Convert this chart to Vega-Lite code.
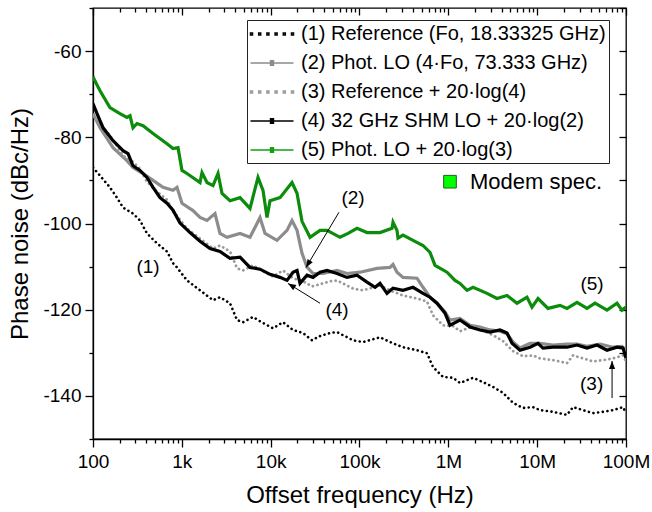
{
  "$schema": "https://vega.github.io/schema/vega-lite/v6.json",
  "width": 533,
  "height": 431,
  "autosize": {"type": "none"},
  "padding": {"left": 93, "top": 8, "right": 26, "bottom": 73},
  "config": {
    "font": "Liberation Sans",
    "view": {"stroke": "#000", "strokeWidth": 1.3},
    "axis": {"grid": false, "domainColor": "#000", "tickColor": "#000", "labelColor": "#000", "titleColor": "#000", "domainWidth": 1.3, "tickWidth": 1.3, "labelFont": "Liberation Sans", "titleFont": "Liberation Sans", "titleFontWeight": "normal"}
  },
  "datasets": {
    "series": [
      {"name": "(1) Reference (Fo, 18.33325 GHz)"},
      {"name": "(2) Phot. LO (4·Fo, 73.333 GHz)"},
      {"name": "(3) Reference + 20·log(4)"},
      {"name": "(4) 32 GHz SHM LO + 20·log(2)"},
      {"name": "(5) Phot. LO + 20·log(3)"}
    ],
    "notes": [
      {"text": "(1)", "f": 416, "db": -110.2},
      {"text": "(2)", "f": 84500, "db": -94.0},
      {"text": "(4)", "f": 55800, "db": -120.1},
      {"text": "(5)", "f": 41500000, "db": -114.1},
      {"text": "(3)", "f": 41000000, "db": -137.2}
    ],
    "modem": [{"label": "Modem spec.", "f": 1044000, "ft": 1754000, "db": -90.3}],
    "arrows": [
      {"id": 2, "f1": 58700, "db1": -97.4, "f2": 25000, "db2": -110.2},
      {"id": 4, "f1": 35940, "db1": -118.5, "f2": 15670, "db2": -113.9},
      {"id": 3, "f1": 69700000, "db1": -140.5, "f2": 69700000, "db2": -131.9}
    ],
    "curves": [
      {"n":1,"f":100,"db":-87.0},{"n":1,"f":120,"db":-88.9},{"n":1,"f":155,"db":-91.6},{"n":1,"f":186,"db":-94.0},{"n":1,"f":218,"db":-96.3},{"n":1,"f":282,"db":-97.7},{"n":1,"f":338,"db":-99.3},{"n":1,"f":405,"db":-102.3},{"n":1,"f":525,"db":-104.6},{"n":1,"f":681,"db":-106.5},{"n":1,"f":795,"db":-109.2},{"n":1,"f":882,"db":-110.2},{"n":1,"f":1143,"db":-113.2},{"n":1,"f":1602,"db":-115.5},{"n":1,"f":2244,"db":-117.8},{"n":1,"f":2690,"db":-117.1},{"n":1,"f":3486,"db":-118.5},{"n":1,"f":4180,"db":-122.4},{"n":1,"f":4883,"db":-122.9},{"n":1,"f":6328,"db":-121.7},{"n":1,"f":8200,"db":-123.1},{"n":1,"f":10625,"db":-124.3},{"n":1,"f":13770,"db":-122.9},{"n":1,"f":17840,"db":-124.7},{"n":1,"f":23120,"db":-125.4},{"n":1,"f":29210,"db":-127.1},{"n":1,"f":35940,"db":-126.1},{"n":1,"f":46580,"db":-125.4},{"n":1,"f":55830,"db":-125.2},{"n":1,"f":84520,"db":-127.1},{"n":1,"f":109500,"db":-127.5},{"n":1,"f":170200,"db":-126.4},{"n":1,"f":238400,"db":-127.8},{"n":1,"f":308900,"db":-128.7},{"n":1,"f":444000,"db":-129.4},{"n":1,"f":575300,"db":-130.1},{"n":1,"f":672200,"db":-133.3},{"n":1,"f":871000,"db":-135.6},{"n":1,"f":1129000,"db":-135.8},{"n":1,"f":1353000,"db":-137.0},{"n":1,"f":1896000,"db":-135.8},{"n":1,"f":2457000,"db":-136.8},{"n":1,"f":3184000,"db":-137.9},{"n":1,"f":4126000,"db":-139.3},{"n":1,"f":5346000,"db":-141.6},{"n":1,"f":6928000,"db":-142.8},{"n":1,"f":8978000,"db":-142.6},{"n":1,"f":10760000,"db":-143.3},{"n":1,"f":15080000,"db":-143.7},{"n":1,"f":21680000,"db":-144.4},{"n":1,"f":25320000,"db":-142.6},{"n":1,"f":32810000,"db":-143.3},{"n":1,"f":42530000,"db":-144.0},{"n":1,"f":55100000,"db":-143.7},{"n":1,"f":71410000,"db":-143.3},{"n":1,"f":92540000,"db":-142.6},{"n":1,"f":100000000,"db":-144.0},

      {"n":2,"f":100,"db":-74.5},{"n":2,"f":120,"db":-77.8},{"n":2,"f":168,"db":-82.4},{"n":2,"f":241,"db":-85.4},{"n":2,"f":282,"db":-87.0},{"n":2,"f":366,"db":-88.4},{"n":2,"f":474,"db":-90.0},{"n":2,"f":614,"db":-91.6},{"n":2,"f":795,"db":-92.3},{"n":2,"f":882,"db":-91.6},{"n":2,"f":1004,"db":-95.3},{"n":2,"f":1336,"db":-97.0},{"n":2,"f":1602,"db":-98.6},{"n":2,"f":1920,"db":-99.3},{"n":2,"f":2363,"db":-97.7},{"n":2,"f":2690,"db":-102.3},{"n":2,"f":3226,"db":-103.2},{"n":2,"f":4517,"db":-102.3},{"n":2,"f":5853,"db":-103.2},{"n":2,"f":7019,"db":-100.0},{"n":2,"f":7585,"db":-98.6},{"n":2,"f":8637,"db":-102.3},{"n":2,"f":11785,"db":-103.9},{"n":2,"f":15275,"db":-101.6},{"n":2,"f":17385,"db":-99.3},{"n":2,"f":19800,"db":-101.6},{"n":2,"f":22540,"db":-106.9},{"n":2,"f":25660,"db":-110.1},{"n":2,"f":29980,"db":-111.6},{"n":2,"f":38850,"db":-111.6},{"n":2,"f":55830,"db":-110.9},{"n":2,"f":72340,"db":-111.6},{"n":2,"f":101340,"db":-111.3},{"n":2,"f":157450,"db":-110.4},{"n":2,"f":220500,"db":-110.2},{"n":2,"f":238400,"db":-109.5},{"n":2,"f":264300,"db":-111.3},{"n":2,"f":308900,"db":-112.5},{"n":2,"f":444000,"db":-112.7},{"n":2,"f":518600,"db":-114.8},{"n":2,"f":621900,"db":-117.1},{"n":2,"f":745700,"db":-118.5},{"n":2,"f":917600,"db":-120.5},{"n":2,"f":1044000,"db":-122.4},{"n":2,"f":1353000,"db":-122.0},{"n":2,"f":1754000,"db":-123.6},{"n":2,"f":2273000,"db":-124.0},{"n":2,"f":2945000,"db":-124.7},{"n":2,"f":3816000,"db":-125.0},{"n":2,"f":4576000,"db":-125.6},{"n":2,"f":5346000,"db":-127.5},{"n":2,"f":6410000,"db":-128.9},{"n":2,"f":8307000,"db":-127.8},{"n":2,"f":10760000,"db":-127.8},{"n":2,"f":15080000,"db":-128.2},{"n":2,"f":21680000,"db":-128.0},{"n":2,"f":28090000,"db":-128.0},{"n":2,"f":36390000,"db":-128.5},{"n":2,"f":50980000,"db":-128.0},{"n":2,"f":71410000,"db":-128.7},{"n":2,"f":90160000,"db":-128.5},{"n":2,"f":100000000,"db":-129.8},

      {"n":3,"f":100,"db":-75.0},{"n":3,"f":120,"db":-76.9},{"n":3,"f":155,"db":-79.6},{"n":3,"f":186,"db":-82.0},{"n":3,"f":218,"db":-84.3},{"n":3,"f":282,"db":-85.7},{"n":3,"f":338,"db":-87.3},{"n":3,"f":405,"db":-90.3},{"n":3,"f":525,"db":-92.6},{"n":3,"f":681,"db":-94.5},{"n":3,"f":795,"db":-97.2},{"n":3,"f":882,"db":-98.2},{"n":3,"f":1143,"db":-101.2},{"n":3,"f":1602,"db":-103.5},{"n":3,"f":2244,"db":-105.8},{"n":3,"f":2690,"db":-105.1},{"n":3,"f":3486,"db":-106.5},{"n":3,"f":4180,"db":-110.4},{"n":3,"f":4883,"db":-110.9},{"n":3,"f":6328,"db":-109.7},{"n":3,"f":8200,"db":-111.1},{"n":3,"f":10625,"db":-112.3},{"n":3,"f":13770,"db":-110.9},{"n":3,"f":17840,"db":-112.7},{"n":3,"f":23120,"db":-113.4},{"n":3,"f":29210,"db":-114.6},{"n":3,"f":35940,"db":-114.1},{"n":3,"f":46580,"db":-113.4},{"n":3,"f":55830,"db":-113.2},{"n":3,"f":84520,"db":-115.1},{"n":3,"f":109500,"db":-115.5},{"n":3,"f":170200,"db":-114.4},{"n":3,"f":238400,"db":-115.8},{"n":3,"f":308900,"db":-116.7},{"n":3,"f":444000,"db":-117.4},{"n":3,"f":575300,"db":-118.1},{"n":3,"f":672200,"db":-121.3},{"n":3,"f":871000,"db":-123.6},{"n":3,"f":1129000,"db":-123.8},{"n":3,"f":1353000,"db":-125.0},{"n":3,"f":1896000,"db":-123.8},{"n":3,"f":2457000,"db":-124.8},{"n":3,"f":3184000,"db":-125.9},{"n":3,"f":4126000,"db":-127.3},{"n":3,"f":5346000,"db":-129.6},{"n":3,"f":6928000,"db":-130.8},{"n":3,"f":8978000,"db":-130.6},{"n":3,"f":10760000,"db":-131.3},{"n":3,"f":15080000,"db":-131.7},{"n":3,"f":21680000,"db":-132.4},{"n":3,"f":25320000,"db":-130.6},{"n":3,"f":32810000,"db":-131.3},{"n":3,"f":42530000,"db":-132.0},{"n":3,"f":55100000,"db":-131.7},{"n":3,"f":71410000,"db":-131.3},{"n":3,"f":92540000,"db":-130.6},{"n":3,"f":100000000,"db":-132.0},

      {"n":4,"f":100,"db":-72.2},{"n":4,"f":111,"db":-74.5},{"n":4,"f":130,"db":-77.8},{"n":4,"f":168,"db":-80.8},{"n":4,"f":218,"db":-83.1},{"n":4,"f":248,"db":-83.8},{"n":4,"f":282,"db":-86.6},{"n":4,"f":338,"db":-87.7},{"n":4,"f":405,"db":-89.3},{"n":4,"f":474,"db":-91.6},{"n":4,"f":568,"db":-94.0},{"n":4,"f":681,"db":-95.3},{"n":4,"f":795,"db":-96.9},{"n":4,"f":954,"db":-99.9},{"n":4,"f":1236,"db":-102.1},{"n":4,"f":1602,"db":-104.1},{"n":4,"f":2076,"db":-105.8},{"n":4,"f":2690,"db":-106.5},{"n":4,"f":3486,"db":-108.1},{"n":4,"f":4517,"db":-107.8},{"n":4,"f":5853,"db":-110.2},{"n":4,"f":7585,"db":-110.6},{"n":4,"f":9831,"db":-111.8},{"n":4,"f":12740,"db":-112.5},{"n":4,"f":15275,"db":-113.2},{"n":4,"f":17840,"db":-111.3},{"n":4,"f":19800,"db":-110.9},{"n":4,"f":21400,"db":-113.9},{"n":4,"f":25660,"db":-112.0},{"n":4,"f":29980,"db":-112.5},{"n":4,"f":35940,"db":-111.3},{"n":4,"f":43090,"db":-110.9},{"n":4,"f":55830,"db":-111.6},{"n":4,"f":72340,"db":-112.5},{"n":4,"f":93760,"db":-112.0},{"n":4,"f":121500,"db":-113.6},{"n":4,"f":149500,"db":-114.8},{"n":4,"f":170200,"db":-113.9},{"n":4,"f":204000,"db":-116.2},{"n":4,"f":238400,"db":-115.0},{"n":4,"f":308900,"db":-115.5},{"n":4,"f":400300,"db":-114.8},{"n":4,"f":518600,"db":-116.2},{"n":4,"f":621900,"db":-117.1},{"n":4,"f":745700,"db":-118.5},{"n":4,"f":917600,"db":-120.8},{"n":4,"f":1044000,"db":-123.6},{"n":4,"f":1353000,"db":-122.4},{"n":4,"f":1754000,"db":-124.0},{"n":4,"f":2273000,"db":-124.7},{"n":4,"f":2945000,"db":-125.2},{"n":4,"f":3816000,"db":-124.7},{"n":4,"f":4576000,"db":-125.4},{"n":4,"f":5210000,"db":-127.8},{"n":4,"f":6410000,"db":-129.4},{"n":4,"f":8307000,"db":-128.7},{"n":4,"f":10220000,"db":-127.8},{"n":4,"f":11630000,"db":-128.9},{"n":4,"f":15080000,"db":-128.7},{"n":4,"f":21680000,"db":-128.7},{"n":4,"f":28090000,"db":-128.2},{"n":4,"f":36390000,"db":-128.9},{"n":4,"f":47170000,"db":-128.2},{"n":4,"f":61120000,"db":-129.4},{"n":4,"f":79200000,"db":-128.7},{"n":4,"f":92540000,"db":-128.9},{"n":4,"f":100000000,"db":-131.2},

      {"n":5,"f":100,"db":-65.9},{"n":5,"f":105,"db":-66.9},{"n":5,"f":120,"db":-69.2},{"n":5,"f":155,"db":-73.1},{"n":5,"f":201,"db":-74.5},{"n":5,"f":241,"db":-75.4},{"n":5,"f":261,"db":-75.0},{"n":5,"f":282,"db":-77.8},{"n":5,"f":313,"db":-76.8},{"n":5,"f":366,"db":-77.3},{"n":5,"f":474,"db":-79.1},{"n":5,"f":681,"db":-81.5},{"n":5,"f":795,"db":-82.6},{"n":5,"f":906,"db":-82.4},{"n":5,"f":1004,"db":-87.7},{"n":5,"f":1143,"db":-88.4},{"n":5,"f":1602,"db":-90.5},{"n":5,"f":1687,"db":-88.2},{"n":5,"f":1920,"db":-90.5},{"n":5,"f":2244,"db":-91.2},{"n":5,"f":2554,"db":-88.4},{"n":5,"f":2833,"db":-93.0},{"n":5,"f":3486,"db":-94.7},{"n":5,"f":4517,"db":-94.0},{"n":5,"f":5853,"db":-96.5},{"n":5,"f":7202,"db":-89.3},{"n":5,"f":8200,"db":-92.3},{"n":5,"f":9097,"db":-98.6},{"n":5,"f":9831,"db":-94.7},{"n":5,"f":12740,"db":-94.0},{"n":5,"f":17385,"db":-90.5},{"n":5,"f":19800,"db":-93.0},{"n":5,"f":22540,"db":-99.5},{"n":5,"f":27730,"db":-103.2},{"n":5,"f":35940,"db":-101.6},{"n":5,"f":43090,"db":-101.6},{"n":5,"f":60350,"db":-103.2},{"n":5,"f":74240,"db":-102.3},{"n":5,"f":93760,"db":-101.1},{"n":5,"f":121500,"db":-102.1},{"n":5,"f":170200,"db":-102.1},{"n":5,"f":232300,"db":-101.1},{"n":5,"f":238400,"db":-99.7},{"n":5,"f":264300,"db":-101.6},{"n":5,"f":271300,"db":-103.4},{"n":5,"f":308900,"db":-102.7},{"n":5,"f":400300,"db":-103.9},{"n":5,"f":518600,"db":-105.1},{"n":5,"f":621900,"db":-106.7},{"n":5,"f":707900,"db":-109.7},{"n":5,"f":966300,"db":-111.3},{"n":5,"f":1189000,"db":-113.2},{"n":5,"f":1353000,"db":-113.9},{"n":5,"f":1623000,"db":-115.5},{"n":5,"f":1896000,"db":-114.8},{"n":5,"f":2725000,"db":-116.2},{"n":5,"f":3531000,"db":-117.4},{"n":5,"f":4576000,"db":-116.7},{"n":5,"f":5930000,"db":-118.5},{"n":5,"f":7684000,"db":-117.1},{"n":5,"f":8748000,"db":-119.4},{"n":5,"f":10220000,"db":-117.4},{"n":5,"f":13240000,"db":-119.7},{"n":5,"f":18070000,"db":-119.0},{"n":5,"f":21680000,"db":-119.7},{"n":5,"f":28090000,"db":-118.3},{"n":5,"f":36390000,"db":-119.7},{"n":5,"f":44790000,"db":-118.5},{"n":5,"f":61120000,"db":-120.1},{"n":5,"f":79200000,"db":-118.5},{"n":5,"f":90160000,"db":-120.1},{"n":5,"f":100000000,"db":-119.4}
    ]
  },
  "layer": [
    {
      "layer": [
        {
          "data": {"name": "curves"},
          "transform": [{"filter": "datum.n == 1"}],
          "mark": {"type": "line", "color": "#000", "strokeWidth": 2.6, "strokeDash": [0.1, 4.6], "strokeCap": "round", "clip": true},
          "encoding": {
            "x": {"field": "f", "type": "quantitative", "scale": {"type": "log", "domain": [100, 100000000], "nice": false},
              "axis": {"orient": "bottom", "values": [100, 1000, 10000, 100000, 1000000, 10000000, 100000000], "labelExpr": "datum.value == 100 ? '100' : datum.value == 1000 ? '1k' : datum.value == 10000 ? '10k' : datum.value == 100000 ? '100k' : datum.value == 1000000 ? '1M' : datum.value == 10000000 ? '10M' : '100M'", "tickSize": 8, "labelPadding": 5, "labelFontSize": 19, "labelFlush": false, "labelOverlap": false, "title": "Offset frequency (Hz)", "titleFontSize": 24, "titlePadding": 12}},
            "y": {"field": "db", "type": "quantitative", "scale": {"domain": [-150, -50], "nice": false},
              "axis": {"orient": "left", "values": [-140, -120, -100, -80, -60], "labelExpr": "'' + datum.value", "tickSize": 8, "labelPadding": 4, "labelFontSize": 19, "title": "Phase noise (dBc/Hz)", "titleFontSize": 24, "titlePadding": 10}},
            "order": {"field": "f", "type": "quantitative"}
          }
        },
        {
          "data": {"name": "curves"},
          "transform": [{"filter": "datum.n == 2"}],
          "mark": {"type": "line", "color": "#8c8c8c", "strokeWidth": 3.2, "clip": true},
          "encoding": {"x": {"field": "f", "type": "quantitative"}, "y": {"field": "db", "type": "quantitative"}, "order": {"field": "f", "type": "quantitative"}}
        },
        {
          "data": {"name": "curves"},
          "transform": [{"filter": "datum.n == 3"}],
          "mark": {"type": "line", "color": "#9a9a9a", "strokeWidth": 2.8, "strokeDash": [0.1, 4.6], "strokeCap": "round", "clip": true},
          "encoding": {"x": {"field": "f", "type": "quantitative"}, "y": {"field": "db", "type": "quantitative"}, "order": {"field": "f", "type": "quantitative"}}
        },
        {
          "data": {"name": "curves"},
          "transform": [{"filter": "datum.n == 4"}],
          "mark": {"type": "line", "color": "#000", "strokeWidth": 3.2, "clip": true},
          "encoding": {"x": {"field": "f", "type": "quantitative"}, "y": {"field": "db", "type": "quantitative"}, "order": {"field": "f", "type": "quantitative"}}
        },
        {
          "data": {"name": "curves"},
          "transform": [{"filter": "datum.n == 5"}],
          "mark": {"type": "line", "color": "#0b8c0b", "strokeWidth": 3.2, "clip": true},
          "encoding": {"x": {"field": "f", "type": "quantitative"}, "y": {"field": "db", "type": "quantitative"}, "order": {"field": "f", "type": "quantitative"}}
        },
        {
          "data": {"name": "notes"},
          "mark": {"type": "text", "font": "Liberation Sans", "fontSize": 19, "align": "center", "baseline": "middle", "color": "#000"},
          "encoding": {"x": {"field": "f", "type": "quantitative"}, "y": {"field": "db", "type": "quantitative"}, "text": {"field": "text"}}
        },
        {
          "data": {"name": "arrows"},
          "mark": {"type": "rule", "color": "#000", "strokeWidth": 1},
          "encoding": {"x": {"field": "f1", "type": "quantitative"}, "y": {"field": "db1", "type": "quantitative"}, "x2": {"field": "f2"}, "y2": {"field": "db2"}}
        },
        {
          "data": {"name": "arrows"},
          "transform": [{"filter": "datum.id == 2"}],
          "mark": {"type": "point", "shape": "M0,0L0.38,1L-0.38,1Z", "filled": true, "color": "#000", "opacity": 1, "size": 256, "angle": 211},
          "encoding": {"x": {"field": "f2", "type": "quantitative"}, "y": {"field": "db2", "type": "quantitative"}}
        },
        {
          "data": {"name": "arrows"},
          "transform": [{"filter": "datum.id == 4"}],
          "mark": {"type": "point", "shape": "M0,0L0.38,1L-0.38,1Z", "filled": true, "color": "#000", "opacity": 1, "size": 256, "angle": 302},
          "encoding": {"x": {"field": "f2", "type": "quantitative"}, "y": {"field": "db2", "type": "quantitative"}}
        },
        {
          "data": {"name": "arrows"},
          "transform": [{"filter": "datum.id == 3"}],
          "mark": {"type": "point", "shape": "M0,0L0.38,1L-0.38,1Z", "filled": true, "color": "#000", "opacity": 1, "size": 256, "angle": 0},
          "encoding": {"x": {"field": "f2", "type": "quantitative"}, "y": {"field": "db2", "type": "quantitative"}}
        },
        {
          "data": {"name": "modem"},
          "mark": {"type": "point", "shape": "square", "filled": true, "fill": "#00ff00", "stroke": "#1f5f1f", "strokeWidth": 1, "opacity": 1, "size": 160},
          "encoding": {"x": {"field": "f", "type": "quantitative"}, "y": {"field": "db", "type": "quantitative"}}
        },
        {
          "data": {"name": "modem"},
          "mark": {"type": "text", "font": "Liberation Sans", "fontSize": 22, "align": "left", "baseline": "middle", "color": "#000"},
          "encoding": {"x": {"field": "ft", "type": "quantitative"}, "y": {"field": "db", "type": "quantitative"}, "text": {"field": "label"}}
        },
        {
          "data": {"name": "series"},
          "mark": {"type": "point", "filled": false, "opacity": 0},
          "encoding": {
            "color": {"field": "name", "type": "nominal",
              "scale": {"domain": ["(1) Reference (Fo, 18.33325 GHz)", "(2) Phot. LO (4·Fo, 73.333 GHz)", "(3) Reference + 20·log(4)", "(4) 32 GHz SHM LO + 20·log(2)", "(5) Phot. LO + 20·log(3)"], "range": ["#000000", "#8c8c8c", "#9a9a9a", "#000000", "#12a012"]},
              "legend": {"orient": "none", "legendX": 154, "legendY": 12, "title": null, "strokeColor": "#222", "fillColor": "#fff", "padding": 3, "labelFontSize": 20, "labelFont": "Liberation Sans", "labelColor": "#000", "labelLimit": 500, "labelOffset": 18, "symbolSize": 400, "symbolOffset": 11, "symbolStrokeWidth": 1.5, "symbolOpacity": 1, "rowPadding": 8}},
            "shape": {"field": "name", "type": "nominal",
              "scale": {"domain": ["(1) Reference (Fo, 18.33325 GHz)", "(2) Phot. LO (4·Fo, 73.333 GHz)", "(3) Reference + 20·log(4)", "(4) 32 GHz SHM LO + 20·log(2)", "(5) Phot. LO + 20·log(3)"],
                "range": [
                  "M-2.15,-0.1h0.2v0.2h-0.2zM-1.33,-0.1h0.2v0.2h-0.2zM-0.51,-0.1h0.2v0.2h-0.2zM0.31,-0.1h0.2v0.2h-0.2zM1.13,-0.1h0.2v0.2h-0.2zM1.95,-0.1h0.2v0.2h-0.2z",
                  "M-2.15,0H2.15M-0.22,-0.22H0.22M-0.22,-0.11H0.22M-0.22,0.11H0.22M-0.22,0.22H0.22",
                  "M-2.15,-0.1h0.2v0.2h-0.2zM-1.33,-0.1h0.2v0.2h-0.2zM-0.51,-0.1h0.2v0.2h-0.2zM0.31,-0.1h0.2v0.2h-0.2zM1.13,-0.1h0.2v0.2h-0.2zM1.95,-0.1h0.2v0.2h-0.2z",
                  "M-2.15,0H2.15M-0.22,-0.22H0.22M-0.22,-0.11H0.22M-0.22,0.11H0.22M-0.22,0.22H0.22",
                  "M-2.15,0H2.15M-0.22,-0.22H0.22M-0.22,-0.11H0.22M-0.22,0.11H0.22M-0.22,0.22H0.22"
                ]}}
          }
        }
      ]
    },
    {
      "data": {"name": "notes"},
      "mark": {"type": "point", "opacity": 0},
      "encoding": {
        "x": {"field": "f", "type": "quantitative", "axis": {"orient": "bottom", "values": [200,300,400,500,600,700,800,900,2000,3000,4000,5000,6000,7000,8000,9000,20000,30000,40000,50000,60000,70000,80000,90000,200000,300000,400000,500000,600000,700000,800000,900000,2000000,3000000,4000000,5000000,6000000,7000000,8000000,9000000,20000000,30000000,40000000,50000000,60000000,70000000,80000000,90000000], "tickSize": 4, "labels": false, "domain": false, "title": null}},
        "y": {"field": "db", "type": "quantitative", "axis": {"orient": "left", "values": [-150, -130, -110, -90, -70, -50], "tickSize": 4, "labels": false, "domain": false, "title": null}}
      }
    },
    {
      "data": {"name": "notes"},
      "mark": {"type": "point", "opacity": 0},
      "encoding": {
        "x": {"field": "f", "type": "quantitative", "axis": {"orient": "top", "values": [100, 1000, 10000, 100000, 1000000, 10000000, 100000000], "tickSize": -7, "labels": false, "domain": false, "title": null}},
        "y": {"field": "db", "type": "quantitative", "axis": {"orient": "right", "values": [-150, -140, -130, -120, -110, -100, -90, -80, -70, -60, -50], "tickSize": -7, "labels": false, "domain": false, "title": null}}
      }
    },
    {
      "data": {"name": "notes"},
      "mark": {"type": "point", "opacity": 0},
      "encoding": {
        "x": {"field": "f", "type": "quantitative", "axis": {"orient": "top", "values": [200,300,400,500,600,700,800,900,2000,3000,4000,5000,6000,7000,8000,9000,20000,30000,40000,50000,60000,70000,80000,90000,200000,300000,400000,500000,600000,700000,800000,900000,2000000,3000000,4000000,5000000,6000000,7000000,8000000,9000000,20000000,30000000,40000000,50000000,60000000,70000000,80000000,90000000], "tickSize": -4, "labels": false, "domain": false, "title": null}},
        "y": {"field": "db", "type": "quantitative", "axis": null}
      }
    }
  ],
  "resolve": {"axis": {"x": "independent", "y": "independent"}}
}
